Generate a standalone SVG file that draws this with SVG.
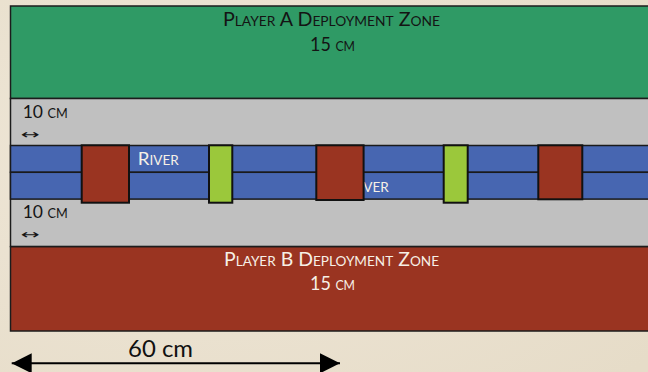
<svg xmlns="http://www.w3.org/2000/svg" width="648" height="372" viewBox="0 0 648 372">
  <defs>
    <radialGradient id="parch" cx="0.3" cy="0.4" r="0.9">
      <stop offset="0" stop-color="#EFE7D8"/>
      <stop offset="1" stop-color="#E6DCC8"/>
    </radialGradient>
    <marker id="ah" viewBox="0 0 20 20" refX="20" refY="10" markerWidth="20" markerHeight="20" markerUnits="userSpaceOnUse" orient="auto-start-reverse">
      <path d="M0,0 L20,10 L0,20 Z" fill="#000"/>
    </marker>
    <style>
      .zone { stroke: #1c1c1c; stroke-width: 1.5; }
      .blk { stroke: #111; stroke-width: 2; }
      .riv { fill: #4766B1; stroke: #1a1a1a; stroke-width: 1.5; }
      .t { font-family: Lato, "Open Sans", "Liberation Sans", sans-serif; font-variant: small-caps; }
      .dark { fill: #141414; }
      .light { fill: #F6F0E6; }
    </style>
  </defs>
  <rect x="0" y="0" width="648" height="372" fill="url(#parch)"/>

  <g id="zone-a">
    <rect class="zone" x="10.5" y="6" width="660" height="92.5" fill="#2F9A65"/>
    <text class="t dark" x="331.5" y="26" font-size="20" text-anchor="middle" textLength="217" lengthAdjust="spacingAndGlyphs">Player A Deployment Zone</text>
    <text class="t dark" x="332.5" y="50.7" font-size="19" text-anchor="middle" textLength="45" lengthAdjust="spacingAndGlyphs">15 cm</text>
  </g>

  <g id="no-mans-land">
    <rect class="zone" x="10.5" y="98.5" width="660" height="148" fill="#C0C0C0"/>
    <text class="t dark" x="22.7" y="118.3" font-size="18" textLength="45" lengthAdjust="spacingAndGlyphs">10 cm</text>
    <text class="dark" x="21" y="138.5" font-size="13" font-family="DejaVu Sans, sans-serif" textLength="19" lengthAdjust="spacingAndGlyphs">↔</text>
    <text class="t dark" x="22.7" y="218.3" font-size="18" textLength="45" lengthAdjust="spacingAndGlyphs">10 cm</text>
    <text class="dark" x="21" y="238.5" font-size="13" font-family="DejaVu Sans, sans-serif" textLength="19" lengthAdjust="spacingAndGlyphs">↔</text>
  </g>

  <g id="river">
    <rect class="riv" x="10.5" y="145.5" width="660" height="26.8"/>
    <rect class="riv" x="10.5" y="172.3" width="660" height="26.8"/>
    <text class="t light" x="137.7" y="165" font-size="18" textLength="41" lengthAdjust="spacingAndGlyphs">River</text>
    <text class="t light" x="347.7" y="191.7" font-size="18" textLength="41" lengthAdjust="spacingAndGlyphs">River</text>
  </g>

  <g id="block-red-1"><rect class="blk" x="81.7" y="145.3" width="47.3" height="57.4" fill="#9A3421"/></g>
  <g id="block-green-1"><rect class="blk" x="209" y="145.3" width="23.3" height="57.4" fill="#9BC83B"/></g>
  <g id="block-red-2"><rect class="blk" x="316.3" y="145.3" width="47.3" height="54.7" fill="#9A3421"/></g>
  <g id="block-green-2"><rect class="blk" x="443.7" y="145.3" width="24" height="57.4" fill="#9BC83B"/></g>
  <g id="block-red-3"><rect class="blk" x="538.3" y="145.3" width="44" height="54" fill="#9A3421"/></g>

  <g id="zone-b">
    <rect class="zone" x="10.5" y="246.7" width="660" height="84.3" fill="#9A3421"/>
    <text class="t light" x="331.5" y="266" font-size="20" text-anchor="middle" textLength="215" lengthAdjust="spacingAndGlyphs">Player B Deployment Zone</text>
    <text class="t light" x="332.5" y="290" font-size="19" text-anchor="middle" textLength="45" lengthAdjust="spacingAndGlyphs">15 cm</text>
  </g>

  <g id="connectors">
    <line x1="11.7" y1="363.3" x2="340" y2="363.3" stroke="#000" stroke-width="2" marker-start="url(#ah)" marker-end="url(#ah)"/>
  </g>
  <g id="scale-label">
    <text x="160.5" y="356.7" font-size="23" font-family="Lato, 'Open Sans', 'Liberation Sans', sans-serif" fill="#111" text-anchor="middle" textLength="65" lengthAdjust="spacingAndGlyphs">60 cm</text>
  </g>
</svg>
